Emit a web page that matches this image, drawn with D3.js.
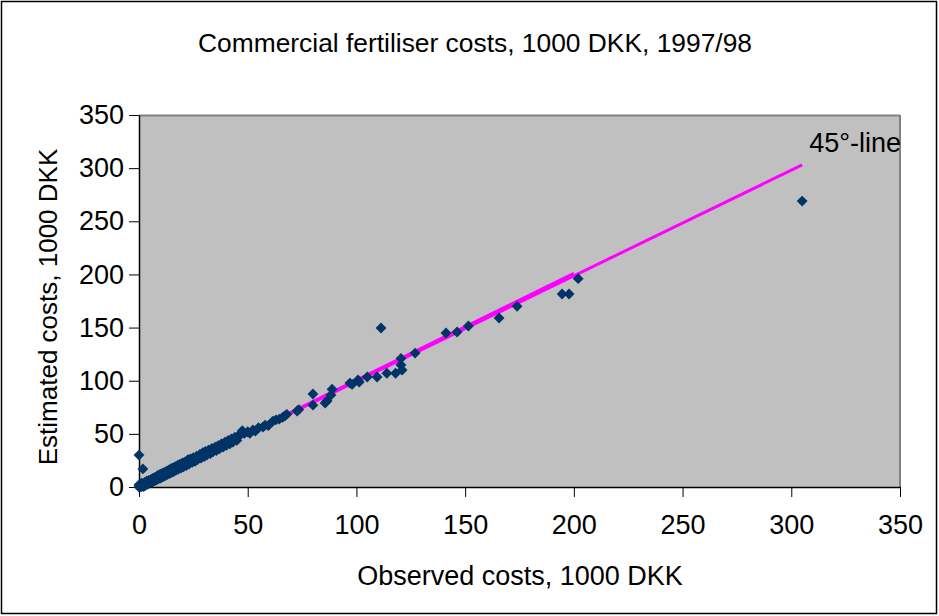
<!DOCTYPE html>
<html>
<head>
<meta charset="utf-8">
<script src="https://cdn.jsdelivr.net/npm/d3@7"></script>
<style>
  body { margin: 0; background: #fff; }
  text { font-family: "Liberation Sans", Arial, sans-serif; fill: #000; }
</style>
</head>
<body>
<div id="chart"></div>
<script>
// observed vs estimated costs, 1000 DKK
var observed = [0, 0.3, 0.5, 0.8, 1, 1.2, 1.5, 2, 2.3, 2.8, 3, 3.5, 4, 4.4, 5, 5.5, 6, 6.5, 7, 7.5,
  8, 8.6, 9, 9.5, 10, 10.6, 11, 11.5, 12, 12.7, 13, 13.6, 14, 14.5, 15, 15.6, 16, 16.6, 17, 17.7,
  18, 18.8, 19.3, 20, 20.5, 21, 21.8, 22.5, 23, 23.8, 24.5, 25, 25.8, 26.5, 27, 28, 28.5, 29.3, 30, 30.5,
  31.2, 32, 32.8, 33.5, 34, 35, 35.6, 36.4, 37, 38, 38.7, 39.5, 40.2, 41, 41.8, 42.5, 43.2, 44, 45, 46,
  46.5, 47.5, 48.5, 50, 51, 52.4, 53.5, 55, 57, 58, 59.5, 61.6, 63, 64.5, 66, 67, 68, 72.7, 73.5, 80,
  80, 85.6, 86.5, 88.3, 88.8, 97, 98, 100.7, 101.3, 105, 109.5, 114, 118, 121, 120.5, 120.5, 127, 111.3,
  141.2, 146.3, 151.5, 165.6, 173.9, 194.6, 197.8, 202, 305, 0, 1.8, 0.5, 0, 1, 2,
  3.2, 6.8, 11.8, 19.5, 27.5, 33, 39, 44.5, 9.8, 15.2, 23.4, 31.8, 37.6];
var estimated = [0, 1.5, 0.2, 2.6, 0.3, 3.6, 1, 3.4, 0.8, 4.5, 1.6, 5.4, 2.5, 6.2, 3.6, 7.2, 4.4, 8.4, 5.5, 9.3,
  6.4, 10.8, 7.6, 11.6, 8.5, 12.8, 9.5, 13.6, 10.6, 15, 11.7, 15.8, 12.6, 17, 13.6, 18, 14.5, 19.2, 15.8, 20.2,
  16.7, 21.5, 17.9, 22.6, 19, 23.3, 20.2, 25.8, 21.5, 26.4, 23.2, 27.5, 24.2, 29, 25.8, 30.6, 27.2, 32.2, 28.6, 33.4,
  30, 34.6, 31.5, 36.2, 33, 37.4, 34.3, 39, 35.8, 40.6, 37.6, 42.2, 39.1, 43.8, 40.7, 45.2, 42.2, 46.7, 43.8, 49,
  49, 53, 50.5, 52, 50.5, 53.6, 52.5, 55.8, 56.4, 58.2, 57.8, 62, 63.2, 63.8, 65.5, 66.8, 68.4, 71.5, 72.8, 77,
  87.5, 79, 81, 86.5, 92, 97.8, 96.5, 100.7, 98.8, 103.5, 103.5, 107, 107, 110, 114.8, 121, 126, 149.6,
  144.9, 145.8, 151.5, 159, 170, 181.6, 181.6, 196, 269, 30, 17, 0.8, 2, 1.5, 0.5,
  4.4, 7.5, 12.4, 20.8, 28.9, 34.8, 40.3, 46.2, 11.9, 17.4, 25.6, 33.9, 39.8];

// reference lines: 45 degree line and the shorter overlapping one
var line45 = [[0, 0], [305, 303]];
var lineShort = [[0, 0], [200, 201]];

var xTicks = [0, 50, 100, 150, 200, 250, 300, 350];
var yTicks = [0, 50, 100, 150, 200, 250, 300, 350];

var W = 939, H = 616;
var svg = d3.select("#chart").append("svg")
  .attr("width", W).attr("height", H);

svg.append("rect")
  .attr("x", 1.5).attr("y", 1.5)
  .attr("width", W - 4).attr("height", H - 4)
  .attr("fill", "#fff").attr("stroke", "#000").attr("stroke-width", 1.5);

var pLeft = 139, pRight = 900, pTop = 115, pBottom = 487;
var x = d3.scaleLinear().domain([0, 350]).range([pLeft, pRight]);
var y = d3.scaleLinear().domain([0, 350]).range([pBottom, pTop]);

// plot area
svg.append("rect")
  .attr("x", pLeft).attr("y", pTop)
  .attr("width", pRight - pLeft).attr("height", pBottom - pTop)
  .attr("fill", "#c0c0c0");
svg.append("line")
  .attr("x1", pLeft).attr("x2", pRight).attr("y1", pTop + 0.5).attr("y2", pTop + 0.5)
  .attr("stroke", "#808080").attr("stroke-width", 2);
svg.append("line")
  .attr("x1", pRight).attr("x2", pRight).attr("y1", pTop).attr("y2", pBottom)
  .attr("stroke", "#808080").attr("stroke-width", 2);

var xAxis = d3.axisBottom(x).tickValues(xTicks).tickSize(10).tickSizeOuter(0).tickPadding(18);
var yAxis = d3.axisLeft(y).tickValues(yTicks).tickSize(10).tickSizeOuter(0).tickPadding(5);

var gx = svg.append("g")
  .attr("transform", "translate(0," + pBottom + ")")
  .call(xAxis);
var gy = svg.append("g")
  .attr("transform", "translate(" + pLeft + ",0)")
  .call(yAxis);
[gx, gy].forEach(function(g) {
  g.selectAll("path").attr("stroke", "#000").attr("stroke-width", 1.5);
  g.selectAll("line").attr("stroke", "#000").attr("stroke-width", 1);
  g.selectAll("text").style("font-size", "27px").attr("font-family", "Liberation Sans, Arial, sans-serif");
});

var linePath = d3.line()
  .x(function(d) { return x(d[0]); })
  .y(function(d) { return y(d[1]); });

svg.append("path")
  .attr("d", linePath(line45))
  .attr("fill", "none").attr("stroke", "#ff00ff").attr("stroke-width", 3);
svg.append("path")
  .attr("d", linePath(lineShort))
  .attr("fill", "none").attr("stroke", "#ff00ff").attr("stroke-width", 3);

var diamond = d3.symbol().type(d3.symbolDiamond2).size(75);
svg.append("g").selectAll("path")
  .data(observed)
  .enter()
  .append("path")
  .attr("d", diamond)
  .attr("transform", function(d, i) { return "translate(" + x(d) + "," + y(estimated[i]) + ")"; })
  .attr("fill", "#003366");

svg.append("text")
  .attr("x", 475).attr("y", 52)
  .attr("text-anchor", "middle")
  .style("font-size", "25px")
  .attr("textLength", 554).attr("lengthAdjust", "spacingAndGlyphs")
  .text("Commercial fertiliser costs, 1000 DKK, 1997/98");

svg.append("text")
  .attr("x", x(305) + 7).attr("y", 152)
  .style("font-size", "27px")
  .text("45°-line");

svg.append("text")
  .attr("x", 520).attr("y", 585)
  .attr("text-anchor", "middle")
  .style("font-size", "27px")
  .text("Observed costs, 1000 DKK");

svg.append("text")
  .attr("transform", "translate(57," + 307 + ") rotate(-90)")
  .attr("text-anchor", "middle")
  .style("font-size", "26px")
  .text("Estimated costs, 1000 DKK");
</script>
</body>
</html>
